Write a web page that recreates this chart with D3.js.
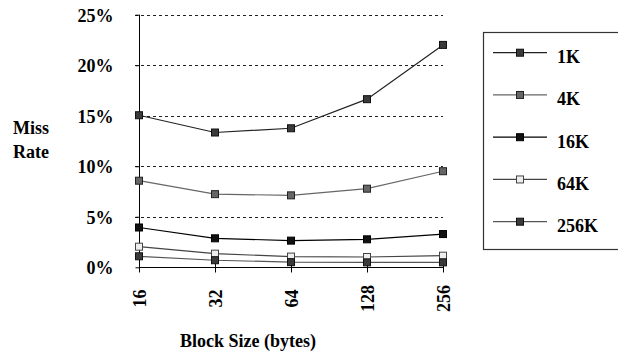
<!DOCTYPE html>
<html>
<head>
<meta charset="utf-8">
<script src="https://cdn.jsdelivr.net/npm/d3@7"></script>
<style>
  body { margin: 0; background: #fff; }
</style>
</head>
<body>
<svg id="chart" width="618" height="355"></svg>
<script>
const blockSizes = ['16', '32', '64', '128', '256'];
const cacheSizes = ['1K', '4K', '16K', '64K', '256K'];
const yTicks = [0, 5, 10, 15, 20, 25];

const miss1K = [15.05, 13.34, 13.76, 16.64, 22.01];
const miss4K = [8.57, 7.24, 7.12, 7.78, 9.51];
const miss16K = [3.94, 2.87, 2.64, 2.77, 3.29];
const miss64K = [2.04, 1.35, 1.06, 1.02, 1.15];
const miss256K = [1.09, 0.70, 0.51, 0.49, 0.49];

const seriesValues = [miss1K, miss4K, miss16K, miss64K, miss256K];
// line colour, marker fill, marker stroke
const styles = [
    { line: '#222', fill: '#3a3a3a', stroke: '#111' },
    { line: '#666', fill: '#666', stroke: '#222' },
    { line: '#000', fill: '#111', stroke: '#000' },
    { line: '#444', fill: '#eee', stroke: '#444' },
    { line: '#555', fill: '#3a3a3a', stroke: '#111' }
];

const FONT = '"Liberation Serif", "Times New Roman", Times, serif';

const svg = d3.select('#chart');

const x = d3.scalePoint().domain(blockSizes).range([139, 443]);
const y = d3.scaleLinear().domain([0, 25]).range([267.3, 14.7]);

function label (sel) {
    return sel.attr('font-family', FONT)
        .style('font-family', FONT)
        .style('font-weight', 'bold')
        .style('font-size', '18px')
        .style('fill', '#000');
}

// dotted gridlines
svg.append('g')
    .selectAll('line')
    .data(yTicks.filter(d => d > 0))
    .enter()
    .append('line')
    .attr('x1', 135)
    .attr('x2', 443)
    .attr('y1', d => Math.round(y(d)) + 0.5)
    .attr('y2', d => Math.round(y(d)) + 0.5)
    .style('stroke', '#222')
    .style('stroke-width', '1px')
    .style('stroke-dasharray', '3,3');

// y axis
const yAxis = svg.append('g')
    .attr('transform', 'translate(139.5,0)')
    .call(d3.axisLeft(y).tickValues(yTicks).tickSize(4).tickFormat(d => d + '%'));
yAxis.attr('font-family', FONT);
yAxis.select('.domain').attr('d', 'M0,' + y(25) + 'V' + y(0)).style('stroke', '#000');
yAxis.selectAll('.tick line').style('stroke', '#000');
yAxis.selectAll('.tick text')
    .attr('x', -26)
    .attr('dy', '0.35em')
    .call(label);

// x axis
const xAxis = svg.append('g')
    .attr('transform', 'translate(0,' + (Math.round(y(0)) + 0.5) + ')')
    .call(d3.axisBottom(x).tickSize(5).tickSizeOuter(0));
xAxis.attr('font-family', FONT);
xAxis.select('.domain').attr('d', 'M139,0H443').style('stroke', '#000');
xAxis.selectAll('.tick line').attr('y1', -4).attr('y2', 5).style('stroke', '#000');
xAxis.selectAll('.tick text')
    .attr('transform', 'rotate(-90)')
    .attr('x', -31)
    .attr('y', 0)
    .attr('dy', '0.35em')
    .style('text-anchor', 'middle')
    .call(label);

// axis titles
svg.append('text').attr('x', 31).attr('y', 134).attr('text-anchor', 'middle').call(label).text('Miss');
svg.append('text').attr('x', 31).attr('y', 158).attr('text-anchor', 'middle').call(label).text('Rate');
svg.append('text').attr('x', 248).attr('y', 347).attr('text-anchor', 'middle').call(label).text('Block Size (bytes)');

// series lines and markers
const line = d3.line().x((d, i) => x(blockSizes[i])).y(d => y(d));
seriesValues.forEach((vals, s) => {
    const g = svg.append('g');
    g.append('path')
        .datum(vals)
        .attr('d', line)
        .style('fill', 'none')
        .style('stroke', styles[s].line)
        .style('stroke-width', '1.2px');
    g.selectAll('rect')
        .data(vals)
        .enter()
        .append('rect')
        .attr('x', (d, i) => x(blockSizes[i]) - 3.5)
        .attr('y', d => y(d) - 3.5)
        .attr('width', 7)
        .attr('height', 7)
        .style('fill', styles[s].fill)
        .style('stroke', styles[s].stroke)
        .style('stroke-width', '1px');
});

// legend
const legend = svg.append('g');
legend.append('rect')
    .attr('x', 483.5)
    .attr('y', 32.5)
    .attr('width', 160)
    .attr('height', 217)
    .style('fill', '#fff')
    .style('stroke', '#333')
    .style('stroke-width', '1.2px');

const legendY = d3.scalePoint().domain(cacheSizes).range([52.7, 221.7]);
cacheSizes.forEach((name, s) => {
    const ly = legendY(name);
    legend.append('line')
        .attr('x1', 493).attr('x2', 547)
        .attr('y1', ly).attr('y2', ly)
        .style('stroke', styles[s].line)
        .style('stroke-width', '1.2px');
    legend.append('rect')
        .attr('x', 520 - 3.5).attr('y', ly - 3.5)
        .attr('width', 7).attr('height', 7)
        .style('fill', styles[s].fill)
        .style('stroke', styles[s].stroke);
    legend.append('text')
        .attr('x', 557)
        .attr('y', ly + 10.5)
        .call(label)
        .text(name);
});
</script>
</body>
</html>
